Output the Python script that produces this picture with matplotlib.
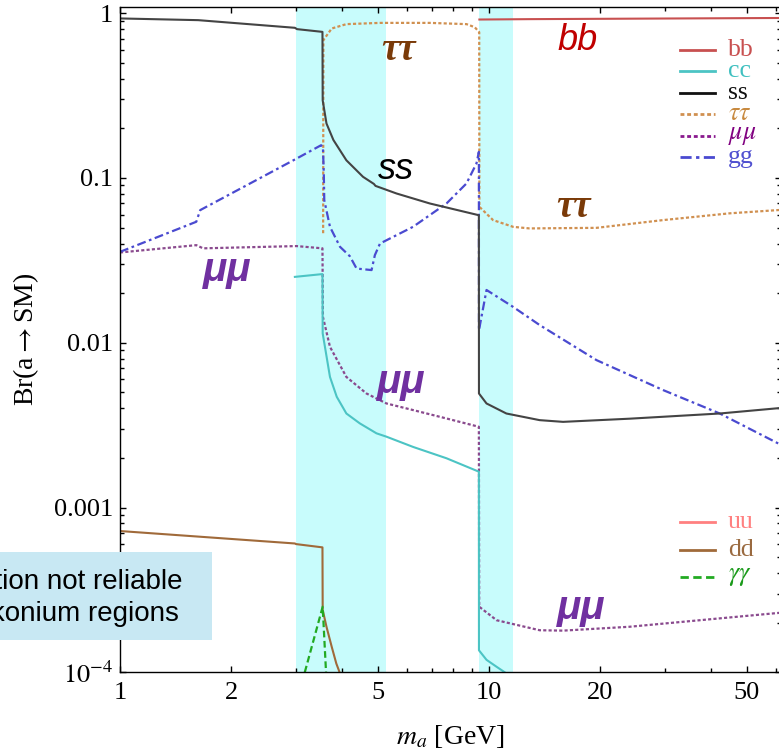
import numpy as np
import matplotlib
matplotlib.use("Agg")
import matplotlib.pyplot as plt
from matplotlib.patches import Rectangle

plt.rcParams['font.family'] = ['Liberation Serif', 'DejaVu Serif']
plt.rcParams['mathtext.fontset'] = 'stix'

# branching ratios vs pseudoscalar mass (GeV)
bb_m = [9.43, 13.0, 62.0]
bb_br = [0.915, 0.92, 0.935]

cc_m = [2.98, 3.54, 3.545, 3.71, 3.87, 4.11, 4.47, 4.96, 5.28, 6.24, 7.68, 9.40, 9.405, 9.86, 10.5, 11.05, 11.4]
cc_br = [0.0251, 0.0261, 0.0114, 0.0062, 0.0047, 0.00372, 0.00324, 0.00282, 0.00269, 0.00233, 0.00199,
         0.00165, 0.000136, 0.000119, 0.000108, 0.0001, 0.000094]

ss_m = [1.0, 1.63, 2.98, 3.02, 3.54, 3.545, 3.63, 3.79, 4.11, 4.56, 4.88, 4.93, 5.62, 6.92, 9.40, 9.405,
        9.86, 11.16, 13.74, 15.9, 24.1, 42.3, 62.0]
ss_br = [0.929, 0.907, 0.815, 0.80, 0.77, 0.296, 0.214, 0.170, 0.128, 0.1016, 0.092, 0.0895, 0.0805, 0.070,
         0.0594, 0.00492, 0.00428, 0.00372, 0.00339, 0.00331, 0.00346, 0.00372, 0.00402]

tau_m = [3.555, 3.56, 3.75, 4.11, 5.07, 6.92, 8.70, 9.16, 9.42, 9.43, 10.27, 11.64, 12.9, 19.6, 29.7, 45.0, 62.0]
tau_br = [0.0462, 0.686, 0.807, 0.858, 0.873, 0.873, 0.858, 0.822, 0.767, 0.0668, 0.0555, 0.0505, 0.0494,
          0.0498, 0.0555, 0.061, 0.064]

mu_m = [1.0, 1.61, 1.68, 3.01, 3.54, 3.55, 3.71, 4.11, 4.66, 5.28, 6.24, 7.68, 9.40, 9.42, 10.5, 13.74,
        15.9, 24.1, 37.3, 62.0]
mu_br = [0.0353, 0.0391, 0.0374, 0.0386, 0.0374, 0.01436, 0.00944, 0.0062, 0.00492, 0.00428, 0.0039,
         0.00347, 0.00309, 0.00025, 0.000207, 0.00018, 0.000179, 0.000189, 0.000207, 0.00023]

gg_m = [1.0, 1.61, 1.65, 3.01, 3.51, 3.55, 3.57, 3.58, 3.71, 3.95, 4.2, 4.38, 4.81, 4.91, 5.07, 6.23, 7.68,
        8.70, 9.26, 9.40, 9.405, 9.86, 11.64, 13.74, 19.6, 29.7, 42.3, 62.0]
gg_br = [0.0356, 0.0542, 0.0638, 0.131, 0.158, 0.154, 0.106, 0.0733, 0.0505, 0.0382, 0.0335, 0.0282, 0.0276,
         0.034, 0.040, 0.0505, 0.070, 0.0926, 0.1225, 0.144, 0.0119, 0.0209, 0.0165, 0.0128, 0.00784,
         0.00516, 0.00372, 0.0024]

dd_m = [1.0, 2.98, 3.0, 3.54, 3.545, 3.63, 3.75, 3.86, 3.94, 3.98]
dd_br = [0.00072, 0.000605, 0.0006, 0.000573, 0.000239, 0.000189, 0.000143, 0.000113, 0.0001, 0.000095]

aa_m = [3.17, 3.545, 3.62]
aa_br = [0.0001, 0.00025, 0.0001]

# quarkonium windows
bands = [(2.994, 5.25), (9.40, 11.64)]

xticks = [1, 2, 5, 10, 20, 50]
xminor = [3, 4, 6, 7, 8, 9, 30, 40, 60]
yticks = [1e-4, 1e-3, 1e-2, 0.1, 1]
ylabels = [r'$10^{-4}$', '0.001', '0.01', '0.1', '1']

fig = plt.figure(figsize=(7.79, 7.49), dpi=100)
W, H = 779.0, 749.0
ax = fig.add_axes([120 / W, 76.7 / H, 661 / W, 665.3 / H])
ax.set_xscale('log')
ax.set_yscale('log')
ax.set_xlim(1, 62)
ax.set_ylim(1e-4, 1.09)

for lo, hi in bands:
    ax.axvspan(lo, hi, color='#c8fcfc', lw=0, zorder=0)

dot = (0, (1.4, 1.0))
ax.plot(mu_m, mu_br, color='#8a4a8e', lw=1.6, ls=dot)
ax.plot(tau_m, tau_br, color='#d09050', lw=1.6, ls=dot)
ax.plot(gg_m, gg_br, color='#4a4ad0', lw=1.6, ls=(0, (4, 1.6, 1.2, 1.6)))
ax.plot(cc_m, cc_br, color='#4cc4c4', lw=1.5)
ax.plot(dd_m, dd_br, color='#a06a3a', lw=1.5)
ax.plot(ss_m, ss_br, color='#444444', lw=1.5)
ax.plot(bb_m, bb_br, color='#c85050', lw=1.5)
ax.plot(aa_m, aa_br, color='#22aa22', lw=1.6, ls=(0, (3, 1.6)))

ax.set_xticks(xticks)
ax.set_xticklabels([str(t) for t in xticks])
ax.set_xticks(xminor, minor=True)
ax.set_xticklabels([], minor=True)
ax.set_yticks(yticks)
ax.set_yticklabels(ylabels)
ax.yaxis.set_minor_locator(matplotlib.ticker.LogLocator(base=10, subs=np.arange(2, 10)))
ax.yaxis.set_minor_formatter(matplotlib.ticker.NullFormatter())
ax.tick_params(which='both', direction='in', top=True, right=True, labelsize=19, width=1.0)
ax.tick_params(which='major', length=4.5)
ax.tick_params(which='minor', length=2.6)
ax.tick_params(axis='x', pad=7)
ax.tick_params(axis='y', pad=5)
for s in ax.spines.values():
    s.set_linewidth(1.0)

ax.set_xlabel(r'$m_a$ [GeV]', fontsize=20)
ax.xaxis.set_label_coords(0.5, -0.097)
ax.xaxis.label.set_va('center')
ax.set_ylabel(r'Br(a$\rightarrow$SM)', fontsize=20)
ax.yaxis.set_label_coords(-0.1415, 0.5)
ax.yaxis.label.set_va('center')

# channel labels on the curves
sans = ['Liberation Sans', 'DejaVu Sans']
serif = ['Liberation Serif', 'DejaVu Serif']
for mx, my in [(5.70, 0.596), (17.0, 0.066)]:
    ax.text(mx, my, '\u03c4\u03c4', color='#7a3a08', fontsize=28, fontweight='bold', style='italic',
            family=serif, ha='center', va='center')
ax.text(17.4, 0.686, 'bb', color='#c00000', fontsize=26, style='italic', family=sans, ha='center', va='center')
ax.text(5.61, 0.113, 'ss', color='black', fontsize=26, style='italic', family=sans, ha='center', va='center')
for mx, my in [(1.956, 0.0276), (5.80, 0.00579), (17.8, 0.000245)]:
    ax.text(mx, my, '\u03bc\u03bc', color='#7030a0', fontsize=29, fontweight='bold', style='italic',
            family=sans, ha='center', va='center')

# legends, drawn by hand for the tight row spacing
def fpos(px, py):
    return px / W, 1 - py / H

leg_top = [('bb', '#c85050', '-', '#c85050'),
           ('cc', '#4cc4c4', '-', '#40c0c0'),
           ('ss', '#111111', '-', '#111111'),
           (r'$\tau\tau$', '#d09050', dot, '#c88a40'),
           (r'$\mu\mu$', '#8a1a8e', dot, '#800080'),
           ('gg', '#4a4ad0', (0, (4, 1.6, 1.2, 1.6)), '#5050d0')]
leg_bot = [('uu', '#ff8080', '-', '#ff8080'),
           ('dd', '#a06a3a', '-', '#9a6a40'),
           (r'$\gamma\gamma$', '#22aa22', (0, (3, 1.6)), '#1a9a1a')]

for rows, y0, dy in [(leg_top, 50, 21.4), (leg_bot, 522.3, 27.2)]:
    for i, (lab, lc, ls, tc) in enumerate(rows):
        py = y0 + i * dy
        x0, yy = fpos(680, py)
        x1, _ = fpos(715, py)
        fig.add_artist(plt.Line2D([x0, x1], [yy, yy], color=lc, lw=2.0, ls=ls))
        tx, ty = fpos(728, py)
        fig.text(tx, ty, lab, color=tc, fontsize=18.5, ha='left', va='center')

# note box
bx0, by0 = fpos(-10, 640)
bx1, by1 = fpos(212, 552)
fig.add_artist(Rectangle((bx0, by0), bx1 - bx0, by1 - by0, transform=fig.transFigure,
                         facecolor='#c8e8f3', edgecolor='none', zorder=5))
tx, ty = fpos(42, 598)
fig.text(tx, ty, 'Calculation not reliable\nin quarkonium regions', family=sans, fontsize=20,
         ha='center', va='center', multialignment='center', linespacing=1.3, zorder=6)

fig.savefig('out.png', dpi=100)
